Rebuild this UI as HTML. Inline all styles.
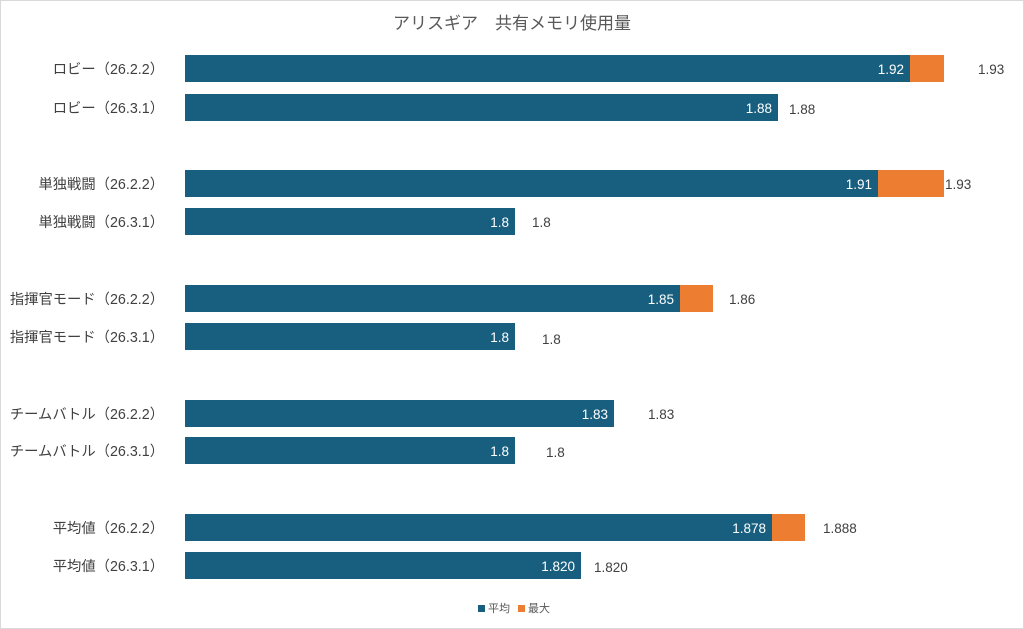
<!DOCTYPE html>
<html><head><meta charset="utf-8"><style>
html,body{margin:0;padding:0;background:#fff}
svg{display:block}
text{font-family:"Liberation Sans","Noto Sans CJK JP",sans-serif}
</style></head><body>
<svg width="1024" height="629" viewBox="0 0 1024 629">
<rect x="0.5" y="0.5" width="1023" height="628" fill="#fff" stroke="#d9d9d9"/>
<text x="512" y="29" font-size="17" fill="#595959" text-anchor="middle">アリスギア　共有メモリ使用量</text>
<g font-size="14.3" fill="#404040" text-anchor="end">
<text x="164" y="74">ロビー（26.2.2）</text>
<text x="164" y="113">ロビー（26.3.1）</text>
<text x="164" y="189">単独戦闘（26.2.2）</text>
<text x="164" y="227">単独戦闘（26.3.1）</text>
<text x="164" y="304">指揮官モード（26.2.2）</text>
<text x="164" y="342">指揮官モード（26.3.1）</text>
<text x="164" y="419">チームバトル（26.2.2）</text>
<text x="164" y="456">チームバトル（26.3.1）</text>
<text x="164" y="533">平均値（26.2.2）</text>
<text x="164" y="571">平均値（26.3.1）</text>
</g>
<g fill="#ed7d31">
<rect x="910" y="55" width="34" height="27"/>
<rect x="878" y="170" width="66" height="27"/>
<rect x="680" y="285" width="33" height="27"/>
<rect x="772" y="514" width="33" height="27"/>
</g>
<g fill="#185f7f">
<rect x="185" y="55" width="725" height="27"/>
<rect x="185" y="94" width="593" height="27"/>
<rect x="185" y="170" width="693" height="27"/>
<rect x="185" y="208" width="330" height="27"/>
<rect x="185" y="285" width="495" height="27"/>
<rect x="185" y="323" width="330" height="27"/>
<rect x="185" y="400" width="429" height="27"/>
<rect x="185" y="437" width="330" height="27"/>
<rect x="185" y="514" width="587" height="27"/>
<rect x="185" y="552" width="396" height="27"/>
</g>
<g font-size="13.5" fill="#fff" text-anchor="end">
<text x="904" y="74">1.92</text>
<text x="772" y="113">1.88</text>
<text x="872" y="189">1.91</text>
<text x="509" y="227">1.8</text>
<text x="674" y="304">1.85</text>
<text x="509" y="342">1.8</text>
<text x="608" y="419">1.83</text>
<text x="509" y="456">1.8</text>
<text x="766" y="533">1.878</text>
<text x="575" y="571">1.820</text>
</g>
<g font-size="13.5" fill="#404040">
<text x="978" y="74">1.93</text>
<text x="789" y="114">1.88</text>
<text x="945" y="189">1.93</text>
<text x="532" y="227">1.8</text>
<text x="729" y="304">1.86</text>
<text x="542" y="344">1.8</text>
<text x="648" y="419">1.83</text>
<text x="546" y="457">1.8</text>
<text x="823" y="533">1.888</text>
<text x="594" y="572">1.820</text>
</g>
<rect x="478" y="605" width="7" height="7" fill="#185f7f"/>
<text x="488" y="612" font-size="11" fill="#595959">平均</text>
<rect x="518" y="605" width="7" height="7" fill="#ed7d31"/>
<text x="528" y="612" font-size="11" fill="#595959">最大</text>
</svg>
</body></html>
